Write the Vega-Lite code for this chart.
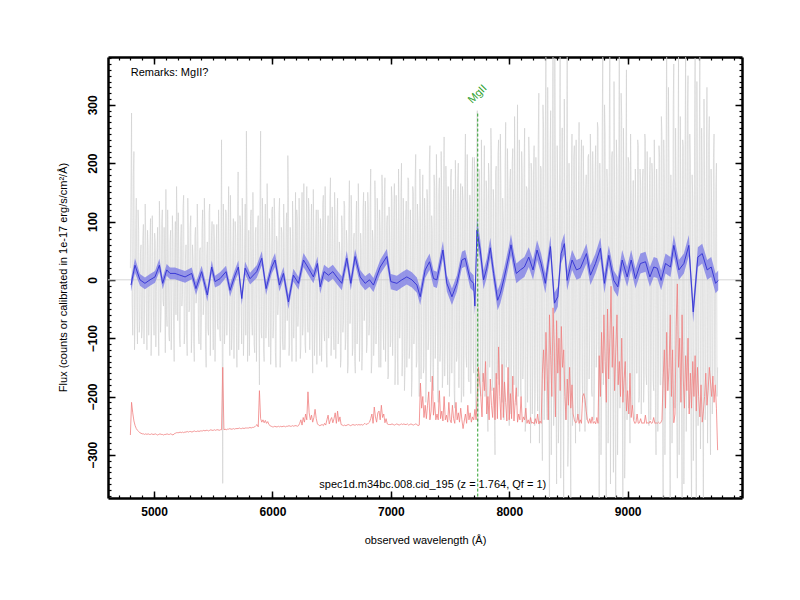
{
  "$schema": "https://vega.github.io/schema/vega-lite/v6.json",
  "width": 634,
  "height": 441,
  "autosize": {"type": "none"},
  "padding": {"left": 108, "top": 57, "right": 58, "bottom": 102},
  "background": "white",
  "config": {
    "font": "Liberation Sans",
    "view": {"stroke": null},
    "axis": {"grid": false, "zindex": 1, "tickColor": "black", "domainColor": "black", "labelColor": "black", "titleColor": "black"}
  },
  "datasets": {
    "spec": [
      {"w":4800,"f":20,"s":-266},{"w":4810,"f":286,"s":-210},{"w":4820,"f":-95,"s":-228},{"w":4830,"f":220,"s":-242},{"w":4840,"f":-60,"s":-250},{"w":4850,"f":140,"s":-255},{"w":4860,"f":-110,"s":-258},{"w":4870,"f":85,"s":-260},{"w":4880,"f":-70,"s":-262},{"w":4890,"f":60,"s":-263},
      {"w":4900,"f":-85,"s":-264},{"w":4910,"f":95,"s":-264},{"w":4920,"f":-40,"s":-265},{"w":4930,"f":70,"s":-264},{"w":4940,"f":-120,"s":-265},{"w":4950,"f":55,"s":-264},{"w":4960,"f":-30,"s":-265},{"w":4970,"f":105,"s":-265},{"w":4980,"f":-75,"s":-264},{"w":4990,"f":40,"s":-265},
      {"w":5000,"f":-95,"s":-265},{"w":5010,"f":65,"s":-264},{"w":5020,"f":-20,"s":-265},{"w":5030,"f":90,"s":-266},{"w":5040,"f":-130,"s":-265},{"w":5050,"f":75,"s":-264},{"w":5060,"f":-55,"s":-265},{"w":5070,"f":120,"s":-265},{"w":5080,"f":-45,"s":-266},{"w":5090,"f":30,"s":-265},
      {"w":5100,"f":155,"s":-265},{"w":5110,"f":-80,"s":-264},{"w":5120,"f":50,"s":-265},{"w":5130,"f":-105,"s":-265},{"w":5140,"f":85,"s":-264},{"w":5150,"f":-35,"s":-265},{"w":5160,"f":70,"s":-266},{"w":5170,"f":-140,"s":-264},{"w":5180,"f":100,"s":-263},{"w":5190,"f":160,"s":-262},
      {"w":5200,"f":-70,"s":-262},{"w":5210,"f":40,"s":-262},{"w":5220,"f":-115,"s":-261},{"w":5230,"f":95,"s":-262},{"w":5240,"f":-25,"s":-261},{"w":5250,"f":145,"s":-262},{"w":5260,"f":-90,"s":-261},{"w":5270,"f":60,"s":-261},{"w":5280,"f":-130,"s":-260},{"w":5290,"f":80,"s":-261},
      {"w":5300,"f":-50,"s":-260},{"w":5310,"f":110,"s":-260},{"w":5320,"f":-85,"s":-261},{"w":5330,"f":35,"s":-260},{"w":5340,"f":-140,"s":-259},{"w":5350,"f":90,"s":-260},{"w":5360,"f":-20,"s":-260},{"w":5370,"f":75,"s":-259},{"w":5380,"f":-110,"s":-260},{"w":5390,"f":55,"s":-259},
      {"w":5400,"f":-65,"s":-259},{"w":5410,"f":120,"s":-259},{"w":5420,"f":-40,"s":-258},{"w":5430,"f":85,"s":-259},{"w":5440,"f":-150,"s":-258},{"w":5450,"f":65,"s":-258},{"w":5460,"f":-95,"s":-259},{"w":5470,"f":130,"s":-258},{"w":5480,"f":-30,"s":-257},{"w":5490,"f":100,"s":-258},
      {"w":5500,"f":-120,"s":-258},{"w":5510,"f":70,"s":-257},{"w":5520,"f":-55,"s":-258},{"w":5530,"f":95,"s":-257},{"w":5540,"f":-85,"s":-257},{"w":5550,"f":45,"s":-258},{"w":5560,"f":-105,"s":-257},{"w":5570,"f":240,"s":-257},{"w":5580,"f":-349,"s":-150},{"w":5590,"f":80,"s":-257},
      {"w":5600,"f":-70,"s":-256},{"w":5610,"f":115,"s":-257},{"w":5620,"f":-45,"s":-256},{"w":5630,"f":160,"s":-256},{"w":5640,"f":-130,"s":-255},{"w":5650,"f":60,"s":-256},{"w":5660,"f":-90,"s":-256},{"w":5670,"f":105,"s":-255},{"w":5680,"f":-35,"s":-256},{"w":5690,"f":75,"s":-255},
      {"w":5700,"f":-150,"s":-255},{"w":5710,"f":185,"s":-255},{"w":5720,"f":-60,"s":-254},{"w":5730,"f":95,"s":-255},{"w":5740,"f":-110,"s":-255},{"w":5750,"f":50,"s":-254},{"w":5760,"f":-80,"s":-255},{"w":5770,"f":130,"s":-254},{"w":5780,"f":255,"s":-254},{"w":5790,"f":-140,"s":-254},
      {"w":5800,"f":85,"s":-254},{"w":5810,"f":-55,"s":-253},{"w":5820,"f":120,"s":-254},{"w":5830,"f":-95,"s":-253},{"w":5840,"f":40,"s":-253},{"w":5850,"f":-125,"s":-252},{"w":5860,"f":90,"s":-250},{"w":5870,"f":-30,"s":-248},{"w":5880,"f":110,"s":-252},{"w":5890,"f":-180,"s":-190},
      {"w":5900,"f":255,"s":-238},{"w":5910,"f":-100,"s":-244},{"w":5920,"f":75,"s":-240},{"w":5930,"f":-140,"s":-245},{"w":5940,"f":130,"s":-241},{"w":5950,"f":-60,"s":-246},{"w":5960,"f":95,"s":-243},{"w":5970,"f":-115,"s":-248},{"w":5980,"f":50,"s":-250},{"w":5990,"f":-85,"s":-251},
      {"w":6000,"f":125,"s":-252},{"w":6010,"f":-70,"s":-252},{"w":6020,"f":100,"s":-251},{"w":6030,"f":-150,"s":-252},{"w":6040,"f":65,"s":-252},{"w":6050,"f":-40,"s":-251},{"w":6060,"f":140,"s":-252},{"w":6070,"f":-95,"s":-251},{"w":6080,"f":80,"s":-252},{"w":6090,"f":-120,"s":-251},
      {"w":6100,"f":55,"s":-251},{"w":6110,"f":-75,"s":-252},{"w":6120,"f":115,"s":-251},{"w":6130,"f":213,"s":-251},{"w":6140,"f":-130,"s":-250},{"w":6150,"f":90,"s":-251},{"w":6160,"f":-60,"s":-251},{"w":6170,"f":135,"s":-250},{"w":6180,"f":-100,"s":-251},{"w":6190,"f":45,"s":-250},
      {"w":6200,"f":-140,"s":-250},{"w":6210,"f":105,"s":-251},{"w":6220,"f":-50,"s":-250},{"w":6230,"f":85,"s":-246},{"w":6240,"f":-115,"s":-240},{"w":6250,"f":150,"s":-249},{"w":6260,"f":-75,"s":-236},{"w":6270,"f":60,"s":-244},{"w":6280,"f":-125,"s":-230},{"w":6290,"f":160,"s":-240},
      {"w":6300,"f":-90,"s":-192},{"w":6310,"f":115,"s":-228},{"w":6320,"f":-45,"s":-240},{"w":6330,"f":130,"s":-232},{"w":6340,"f":-160,"s":-244},{"w":6350,"f":70,"s":-236},{"w":6360,"f":-85,"s":-222},{"w":6370,"f":120,"s":-238},{"w":6380,"f":-35,"s":-247},{"w":6390,"f":95,"s":-249},
      {"w":6400,"f":-130,"s":-250},{"w":6410,"f":80,"s":-249},{"w":6420,"f":-60,"s":-248},{"w":6430,"f":145,"s":-250},{"w":6440,"f":-105,"s":-246},{"w":6450,"f":55,"s":-249},{"w":6460,"f":-150,"s":-240},{"w":6470,"f":110,"s":-232},{"w":6480,"f":-40,"s":-247},{"w":6490,"f":175,"s":-240},
      {"w":6500,"f":-95,"s":-236},{"w":6510,"f":65,"s":-245},{"w":6520,"f":-120,"s":-238},{"w":6530,"f":100,"s":-228},{"w":6540,"f":-55,"s":-246},{"w":6550,"f":140,"s":-225},{"w":6560,"f":-85,"s":-243},{"w":6570,"f":45,"s":-235},{"w":6580,"f":-135,"s":-248},{"w":6590,"f":90,"s":-249},
      {"w":6600,"f":-70,"s":-250},{"w":6610,"f":125,"s":-249},{"w":6620,"f":-100,"s":-250},{"w":6630,"f":60,"s":-249},{"w":6640,"f":-145,"s":-248},{"w":6650,"f":170,"s":-249},{"w":6660,"f":-50,"s":-250},{"w":6670,"f":95,"s":-249},{"w":6680,"f":-115,"s":-248},{"w":6690,"f":80,"s":-249},
      {"w":6700,"f":-160,"s":-249},{"w":6710,"f":135,"s":-248},{"w":6720,"f":-65,"s":-249},{"w":6730,"f":100,"s":-248},{"w":6740,"f":-90,"s":-249},{"w":6750,"f":55,"s":-248},{"w":6760,"f":-125,"s":-249},{"w":6770,"f":150,"s":-248},{"w":6780,"f":-45,"s":-246},{"w":6790,"f":85,"s":-248},
      {"w":6800,"f":-110,"s":-247},{"w":6810,"f":120,"s":-246},{"w":6820,"f":-75,"s":-244},{"w":6830,"f":190,"s":-238},{"w":6840,"f":-140,"s":-230},{"w":6850,"f":65,"s":-246},{"w":6860,"f":-95,"s":-218},{"w":6870,"f":130,"s":-235},{"w":6880,"f":-55,"s":-244},{"w":6890,"f":105,"s":-228},
      {"w":6900,"f":-150,"s":-225},{"w":6910,"f":85,"s":-240},{"w":6920,"f":-60,"s":-215},{"w":6930,"f":145,"s":-236},{"w":6940,"f":-120,"s":-230},{"w":6950,"f":175,"s":-245},{"w":6960,"f":-80,"s":-238},{"w":6970,"f":110,"s":-247},{"w":6980,"f":-165,"s":-248},{"w":6990,"f":70,"s":-248},
      {"w":7000,"f":-105,"s":-248},{"w":7010,"f":140,"s":-247},{"w":7020,"f":-70,"s":-248},{"w":7030,"f":165,"s":-249},{"w":7040,"f":-135,"s":-248},{"w":7050,"f":90,"s":-247},{"w":7060,"f":-180,"s":-248},{"w":7070,"f":120,"s":-249},{"w":7080,"f":-60,"s":-248},{"w":7090,"f":200,"s":-247},
      {"w":7100,"f":-125,"s":-248},{"w":7110,"f":75,"s":-247},{"w":7120,"f":-155,"s":-248},{"w":7130,"f":135,"s":-248},{"w":7140,"f":-90,"s":-247},{"w":7150,"f":170,"s":-249},{"w":7160,"f":-115,"s":-248},{"w":7170,"f":60,"s":-247},{"w":7180,"f":-170,"s":-248},{"w":7190,"f":150,"s":-249},
      {"w":7200,"f":-85,"s":-248},{"w":7210,"f":215,"s":-247},{"w":7220,"f":-140,"s":-248},{"w":7230,"f":100,"s":-250},{"w":7240,"f":-200,"s":-249},{"w":7250,"f":125,"s":-177},{"w":7260,"f":-75,"s":-220},{"w":7270,"f":180,"s":-200},{"w":7280,"f":-150,"s":-236},{"w":7290,"f":95,"s":-215},
      {"w":7300,"f":-175,"s":-238},{"w":7310,"f":140,"s":-215},{"w":7320,"f":-100,"s":-192},{"w":7330,"f":230,"s":-240},{"w":7340,"f":-130,"s":-225},{"w":7350,"f":85,"s":-165},{"w":7360,"f":-190,"s":-232},{"w":7370,"f":160,"s":-210},{"w":7380,"f":-65,"s":-240},{"w":7390,"f":120,"s":-230},
      {"w":7400,"f":-210,"s":-240},{"w":7410,"f":175,"s":-190},{"w":7420,"f":-110,"s":-238},{"w":7430,"f":140,"s":-225},{"w":7440,"f":-160,"s":-242},{"w":7450,"f":245,"s":-200},{"w":7460,"f":-95,"s":-240},{"w":7470,"f":130,"s":-232},{"w":7480,"f":-180,"s":-244},{"w":7490,"f":110,"s":-210},
      {"w":7500,"f":-140,"s":-240},{"w":7510,"f":190,"s":-245},{"w":7520,"f":-85,"s":-215},{"w":7530,"f":155,"s":-238},{"w":7540,"f":-220,"s":-246},{"w":7550,"f":120,"s":-210},{"w":7560,"f":-130,"s":-240},{"w":7570,"f":200,"s":-228},{"w":7580,"f":-70,"s":-244},{"w":7590,"f":165,"s":-220},
      {"w":7600,"f":-190,"s":-240},{"w":7610,"f":135,"s":-255},{"w":7620,"f":-100,"s":-242},{"w":7630,"f":250,"s":-230},{"w":7640,"f":-150,"s":-246},{"w":7650,"f":105,"s":-215},{"w":7660,"f":-175,"s":-240},{"w":7670,"f":145,"s":-228},{"w":7680,"f":-120,"s":-244},{"w":7690,"f":210,"s":-235},
      {"w":7700,"f":-160,"s":-240},{"w":7710,"f":185,"s":-222},{"w":7720,"f":-230,"s":-240},{"w":7730,"f":290,"s":-200},{"w":7740,"f":-140,"s":-150},{"w":7750,"f":160,"s":-175},{"w":7760,"f":-200,"s":-200},{"w":7770,"f":120,"s":-235},{"w":7780,"f":-110,"s":-160},{"w":7790,"f":230,"s":-190},
      {"w":7800,"f":-185,"s":-140},{"w":7810,"f":150,"s":-230},{"w":7820,"f":-260,"s":-200},{"w":7830,"f":175,"s":-240},{"w":7840,"f":-90,"s":-170},{"w":7850,"f":215,"s":-215},{"w":7860,"f":-170,"s":-236},{"w":7870,"f":130,"s":-185},{"w":7880,"f":-300,"s":-240},{"w":7890,"f":195,"s":-160},
      {"w":7900,"f":-145,"s":-238},{"w":7910,"f":240,"s":-115},{"w":7920,"f":-120,"s":-200},{"w":7930,"f":165,"s":-240},{"w":7940,"f":-210,"s":-145},{"w":7950,"f":100,"s":-236},{"w":7960,"f":-175,"s":-175},{"w":7970,"f":270,"s":-210},{"w":7980,"f":-135,"s":-242},{"w":7990,"f":150,"s":-150},
      {"w":8000,"f":-250,"s":-240},{"w":8010,"f":190,"s":-195},{"w":8020,"f":-95,"s":-238},{"w":8030,"f":225,"s":-165},{"w":8040,"f":-180,"s":-242},{"w":8050,"f":140,"s":-210},{"w":8060,"f":-215,"s":-185},{"w":8070,"f":300,"s":-244},{"w":8080,"f":-160,"s":-230},{"w":8090,"f":115,"s":-240},
      {"w":8100,"f":-200,"s":-200},{"w":8110,"f":175,"s":-244},{"w":8120,"f":-130,"s":-235},{"w":8130,"f":260,"s":-240},{"w":8140,"f":-240,"s":-220},{"w":8150,"f":155,"s":-246},{"w":8160,"f":-110,"s":-240},{"w":8170,"f":205,"s":-247},{"w":8180,"f":-280,"s":-236},{"w":8190,"f":185,"s":-246},
      {"w":8200,"f":-150,"s":-244},{"w":8210,"f":230,"s":-247},{"w":8220,"f":-195,"s":-238},{"w":8230,"f":140,"s":-246},{"w":8240,"f":-225,"s":-230},{"w":8250,"f":320,"s":-247},{"w":8260,"f":-170,"s":-242},{"w":8270,"f":190,"s":-246},{"w":8280,"f":-310,"s":-160},{"w":8290,"f":260,"s":-120},
      {"w":8300,"f":-160,"s":-190},{"w":8310,"f":410,"s":-90},{"w":8320,"f":-240,"s":-150},{"w":8330,"f":130,"s":-240},{"w":8340,"f":-420,"s":-60},{"w":8350,"f":290,"s":-130},{"w":8360,"f":-110,"s":-200},{"w":8370,"f":450,"s":-48},{"w":8380,"f":-200,"s":-110},{"w":8390,"f":180,"s":-235},
      {"w":8400,"f":-350,"s":-70},{"w":8410,"f":150,"s":-160},{"w":8420,"f":-230,"s":-100},{"w":8430,"f":420,"s":-190},{"w":8440,"f":-120,"s":-80},{"w":8450,"f":260,"s":-150},{"w":8460,"f":-400,"s":-120},{"w":8470,"f":140,"s":-200},{"w":8480,"f":-190,"s":-240},{"w":8490,"f":440,"s":-170},
      {"w":8500,"f":-270,"s":-215},{"w":8510,"f":110,"s":-150},{"w":8520,"f":-390,"s":-220},{"w":8530,"f":250,"s":-180},{"w":8540,"f":-140,"s":-230},{"w":8550,"f":230,"s":-240},{"w":8560,"f":-280,"s":-245},{"w":8570,"f":90,"s":-244},{"w":8580,"f":-240,"s":-230},{"w":8590,"f":270,"s":-246},
      {"w":8600,"f":-120,"s":-240},{"w":8610,"f":240,"s":-246},{"w":8620,"f":-210,"s":-200},{"w":8630,"f":160,"s":-195},{"w":8640,"f":-260,"s":-205},{"w":8650,"f":180,"s":-225},{"w":8660,"f":-150,"s":-240},{"w":8670,"f":215,"s":-246},{"w":8680,"f":-90,"s":-238},{"w":8690,"f":190,"s":-246},
      {"w":8700,"f":-200,"s":-235},{"w":8710,"f":150,"s":-246},{"w":8720,"f":-170,"s":-243},{"w":8730,"f":230,"s":-247},{"w":8740,"f":-110,"s":-236},{"w":8750,"f":260,"s":-246},{"w":8760,"f":-380,"s":-130},{"w":8770,"f":120,"s":-200},{"w":8780,"f":-200,"s":-90},{"w":8790,"f":390,"s":-160},
      {"w":8800,"f":-140,"s":-60},{"w":8810,"f":250,"s":-140},{"w":8820,"f":-440,"s":-210},{"w":8830,"f":160,"s":-50},{"w":8840,"f":-190,"s":-170},{"w":8850,"f":460,"s":-100},{"w":8860,"f":-120,"s":-11},{"w":8870,"f":220,"s":-150},{"w":8880,"f":-330,"s":-80},{"w":8890,"f":150,"s":-190},
      {"w":8900,"f":-410,"s":-120},{"w":8910,"f":190,"s":-60},{"w":8920,"f":-160,"s":-180},{"w":8930,"f":450,"s":-140},{"w":8940,"f":-100,"s":-200},{"w":8950,"f":280,"s":-100},{"w":8960,"f":-420,"s":-210},{"w":8970,"f":130,"s":-170},{"w":8980,"f":-260,"s":-140},{"w":8990,"f":360,"s":-225},
      {"w":9000,"f":-150,"s":-190},{"w":9010,"f":200,"s":-230},{"w":9020,"f":-280,"s":-160},{"w":9030,"f":150,"s":-236},{"w":9040,"f":-220,"s":-215},{"w":9050,"f":170,"s":-240},{"w":9060,"f":-240,"s":-246},{"w":9070,"f":110,"s":-245},{"w":9080,"f":-160,"s":-230},{"w":9090,"f":230,"s":-246},
      {"w":9100,"f":-200,"s":-245},{"w":9110,"f":160,"s":-238},{"w":9120,"f":-130,"s":-246},{"w":9130,"f":190,"s":-245},{"w":9140,"f":-170,"s":-246},{"w":9150,"f":240,"s":-232},{"w":9160,"f":-180,"s":-246},{"w":9170,"f":120,"s":-245},{"w":9180,"f":-250,"s":-246},{"w":9190,"f":210,"s":-242},
      {"w":9200,"f":-130,"s":-246},{"w":9210,"f":180,"s":-245},{"w":9220,"f":-190,"s":-236},{"w":9230,"f":150,"s":-246},{"w":9240,"f":-300,"s":-245},{"w":9250,"f":120,"s":-246},{"w":9260,"f":-160,"s":-244},{"w":9270,"f":210,"s":-246},{"w":9280,"f":-180,"s":-245},{"w":9290,"f":250,"s":-240},
      {"w":9300,"f":-400,"s":-170},{"w":9310,"f":180,"s":-120},{"w":9320,"f":-120,"s":-220},{"w":9330,"f":440,"s":-90},{"w":9340,"f":-160,"s":-190},{"w":9350,"f":200,"s":-150},{"w":9360,"f":-450,"s":-60},{"w":9370,"f":110,"s":-200},{"w":9380,"f":-190,"s":-120},{"w":9390,"f":370,"s":-245},
      {"w":9400,"f":-220,"s":-230},{"w":9410,"f":160,"s":-80},{"w":9420,"f":-340,"s":-7},{"w":9430,"f":390,"s":-150},{"w":9440,"f":-170,"s":-100},{"w":9450,"f":120,"s":-210},{"w":9460,"f":-380,"s":-60},{"w":9470,"f":230,"s":-170},{"w":9480,"f":-110,"s":-220},{"w":9490,"f":400,"s":-130},
      {"w":9500,"f":-160,"s":-190},{"w":9510,"f":350,"s":-100},{"w":9520,"f":-130,"s":-230},{"w":9530,"f":200,"s":-160},{"w":9540,"f":-390,"s":-220},{"w":9550,"f":140,"s":-140},{"w":9560,"f":-180,"s":-200},{"w":9570,"f":380,"s":-130},{"w":9580,"f":-410,"s":-225},{"w":9590,"f":160,"s":-150},
      {"w":9600,"f":-130,"s":-200},{"w":9610,"f":400,"s":-235},{"w":9620,"f":-170,"s":-180},{"w":9630,"f":190,"s":-244},{"w":9640,"f":-440,"s":-225},{"w":9650,"f":160,"s":-200},{"w":9660,"f":-200,"s":-160},{"w":9670,"f":330,"s":-215},{"w":9680,"f":-150,"s":-190},{"w":9690,"f":280,"s":-150},
      {"w":9700,"f":-300,"s":-175},{"w":9710,"f":120,"s":-200},{"w":9720,"f":-160,"s":-165},{"w":9730,"f":250,"s":-210},{"w":9740,"f":-180,"s":-180},{"w":9750,"f":200,"s":-220},{"w":9760,"f":-150,"s":-292},
      {"w":4805,"f":150},{"w":4815,"f":-40},{"w":4825,"f":180},{"w":4835,"f":-120},{"w":4845,"f":95},{"w":4855,"f":-65},{"w":4865,"f":120},{"w":4875,"f":-90},{"w":4885,"f":45},{"w":4895,"f":-100},
      {"w":4905,"f":70},{"w":4915,"f":-110},{"w":4925,"f":130},{"w":4935,"f":-55},{"w":4945,"f":85},{"w":4955,"f":-95},{"w":4965,"f":60},{"w":4975,"f":-130},{"w":4985,"f":110},{"w":4995,"f":-50},
      {"w":5005,"f":80},{"w":5015,"f":-115},{"w":5025,"f":45},{"w":5035,"f":-70},{"w":5045,"f":135},{"w":5055,"f":-90},{"w":5065,"f":100},{"w":5075,"f":-35},{"w":5085,"f":90},{"w":5095,"f":-125},
      {"w":5105,"f":-60},{"w":5115,"f":120},{"w":5125,"f":-95},{"w":5135,"f":65},{"w":5145,"f":-120},{"w":5155,"f":110},{"w":5165,"f":-85},{"w":5175,"f":55},{"w":5185,"f":-60},{"w":5195,"f":95},
      {"w":5205,"f":115},{"w":5215,"f":-100},{"w":5225,"f":70},{"w":5235,"f":-45},{"w":5245,"f":125},{"w":5255,"f":-110},{"w":5265,"f":35},{"w":5275,"f":-95},{"w":5285,"f":140},{"w":5295,"f":-55},
      {"w":5305,"f":90},{"w":5315,"f":-125},{"w":5325,"f":60},{"w":5335,"f":-105},{"w":5345,"f":75},{"w":5355,"f":-40},{"w":5365,"f":130},{"w":5375,"f":-90},{"w":5385,"f":50},{"w":5395,"f":-120},
      {"w":5405,"f":85},{"w":5415,"f":-60},{"w":5425,"f":140},{"w":5435,"f":-110},{"w":5445,"f":40},{"w":5455,"f":-85},{"w":5465,"f":115},{"w":5475,"f":-130},{"w":5485,"f":70},{"w":5495,"f":-50},
      {"w":5505,"f":95},{"w":5515,"f":-140},{"w":5525,"f":60},{"w":5535,"f":-75},{"w":5545,"f":120},{"w":5555,"f":-95},{"w":5565,"f":55},{"w":5575,"f":-60},{"w":5585,"f":130},{"w":5595,"f":-110},
      {"w":5605,"f":120},{"w":5615,"f":-95},{"w":5625,"f":80},{"w":5635,"f":-60},{"w":5645,"f":145},{"w":5655,"f":-120},{"w":5665,"f":50},{"w":5675,"f":-135},{"w":5685,"f":100},{"w":5695,"f":-80},
      {"w":5705,"f":75},{"w":5715,"f":-120},{"w":5725,"f":110},{"w":5735,"f":-45},{"w":5745,"f":140},{"w":5755,"f":-130},{"w":5765,"f":60},{"w":5775,"f":-95},{"w":5785,"f":115},{"w":5795,"f":-65},
      {"w":5805,"f":-130},{"w":5815,"f":105},{"w":5825,"f":-70},{"w":5835,"f":150},{"w":5845,"f":-110},{"w":5855,"f":80},{"w":5865,"f":-140},{"w":5875,"f":95},{"w":5885,"f":-65},{"w":5895,"f":130},
      {"w":5905,"f":-90},{"w":5915,"f":140},{"w":5925,"f":-120},{"w":5935,"f":60},{"w":5945,"f":-100},{"w":5955,"f":165},{"w":5965,"f":-80},{"w":5975,"f":105},{"w":5985,"f":-145},{"w":5995,"f":120},
      {"w":6005,"f":-100},{"w":6015,"f":140},{"w":6025,"f":-125},{"w":6035,"f":75},{"w":6045,"f":-60},{"w":6055,"f":115},{"w":6065,"f":-150},{"w":6075,"f":90},{"w":6085,"f":-105},{"w":6095,"f":130},
      {"w":6105,"f":-120},{"w":6115,"f":95},{"w":6125,"f":-70},{"w":6135,"f":145},{"w":6145,"f":-110},{"w":6155,"f":60},{"w":6165,"f":-140},{"w":6175,"f":85},{"w":6185,"f":-45},{"w":6195,"f":150},
      {"w":6205,"f":120},{"w":6215,"f":-80},{"w":6225,"f":140},{"w":6235,"f":-135},{"w":6245,"f":70},{"w":6255,"f":-95},{"w":6265,"f":165},{"w":6275,"f":-110},{"w":6285,"f":90},{"w":6295,"f":-60},
      {"w":6305,"f":140},{"w":6315,"f":-120},{"w":6325,"f":80},{"w":6335,"f":-100},{"w":6345,"f":155},{"w":6355,"f":-130},{"w":6365,"f":60},{"w":6375,"f":-145},{"w":6385,"f":120},{"w":6395,"f":-75},
      {"w":6405,"f":105},{"w":6415,"f":-140},{"w":6425,"f":130},{"w":6435,"f":-85},{"w":6445,"f":160},{"w":6455,"f":-120},{"w":6465,"f":75},{"w":6475,"f":-100},{"w":6485,"f":140},{"w":6495,"f":-130},
      {"w":6505,"f":125},{"w":6515,"f":-80},{"w":6525,"f":150},{"w":6535,"f":-135},{"w":6545,"f":95},{"w":6555,"f":-110},{"w":6565,"f":65},{"w":6575,"f":-150},{"w":6585,"f":110},{"w":6595,"f":-90},
      {"w":6605,"f":135},{"w":6615,"f":-120},{"w":6625,"f":85},{"w":6635,"f":-160},{"w":6645,"f":110},{"w":6655,"f":-75},{"w":6665,"f":145},{"w":6675,"f":-130},{"w":6685,"f":70},{"w":6695,"f":-140},
      {"w":6705,"f":95},{"w":6715,"f":-110},{"w":6725,"f":165},{"w":6735,"f":-140},{"w":6745,"f":80},{"w":6755,"f":-155},{"w":6765,"f":120},{"w":6775,"f":-70},{"w":6785,"f":135},{"w":6795,"f":-125},
      {"w":6805,"f":150},{"w":6815,"f":-95},{"w":6825,"f":130},{"w":6835,"f":-160},{"w":6845,"f":85},{"w":6855,"f":-130},{"w":6865,"f":170},{"w":6875,"f":-110},{"w":6885,"f":140},{"w":6895,"f":-85},
      {"w":6905,"f":120},{"w":6915,"f":-150},{"w":6925,"f":180},{"w":6935,"f":-90},{"w":6945,"f":135},{"w":6955,"f":-140},{"w":6965,"f":95},{"w":6975,"f":-170},{"w":6985,"f":125},{"w":6995,"f":-115},
      {"w":7005,"f":160},{"w":7015,"f":-130},{"w":7025,"f":110},{"w":7035,"f":-180},{"w":7045,"f":145},{"w":7055,"f":-120},{"w":7065,"f":190},{"w":7075,"f":-100},{"w":7085,"f":150},{"w":7095,"f":-165},
      {"w":7105,"f":140},{"w":7115,"f":-190},{"w":7125,"f":100},{"w":7135,"f":-150},{"w":7145,"f":175},{"w":7155,"f":-135},{"w":7165,"f":120},{"w":7175,"f":-200},{"w":7185,"f":160},{"w":7195,"f":-110},
      {"w":7205,"f":170},{"w":7215,"f":-150},{"w":7225,"f":130},{"w":7235,"f":-120},{"w":7245,"f":190},{"w":7255,"f":-170},{"w":7265,"f":105},{"w":7275,"f":-160},{"w":7285,"f":140},{"w":7295,"f":-210},
      {"w":7305,"f":155},{"w":7315,"f":-120},{"w":7325,"f":200},{"w":7335,"f":-175},{"w":7345,"f":110},{"w":7355,"f":-150},{"w":7365,"f":180},{"w":7375,"f":-135},{"w":7385,"f":215},{"w":7395,"f":-190},
      {"w":7405,"f":150},{"w":7415,"f":-140},{"w":7425,"f":220},{"w":7435,"f":-185},{"w":7445,"f":120},{"w":7455,"f":-165},{"w":7465,"f":195},{"w":7475,"f":-120},{"w":7485,"f":160},{"w":7495,"f":-200},
      {"w":7505,"f":175},{"w":7515,"f":-160},{"w":7525,"f":125},{"w":7535,"f":-190},{"w":7545,"f":205},{"w":7555,"f":-140},{"w":7565,"f":170},{"w":7575,"f":-185},{"w":7585,"f":130},{"w":7595,"f":-210},
      {"w":7605,"f":160},{"w":7615,"f":-200},{"w":7625,"f":180},{"w":7635,"f":-130},{"w":7645,"f":215},{"w":7655,"f":-170},{"w":7665,"f":145},{"w":7675,"f":-195},{"w":7685,"f":170},{"w":7695,"f":-140},
      {"w":7705,"f":210},{"w":7715,"f":-180},{"w":7725,"f":150},{"w":7735,"f":-250},{"w":7745,"f":190},{"w":7755,"f":-160},{"w":7765,"f":240},{"w":7775,"f":-175},{"w":7785,"f":140},{"w":7795,"f":-200},
      {"w":7805,"f":170},{"w":7815,"f":-220},{"w":7825,"f":200},{"w":7835,"f":-150},{"w":7845,"f":260},{"w":7855,"f":-190},{"w":7865,"f":155},{"w":7875,"f":-230},{"w":7885,"f":185},{"w":7895,"f":-170},
      {"w":7905,"f":215},{"w":7915,"f":-180},{"w":7925,"f":250},{"w":7935,"f":-160},{"w":7945,"f":140},{"w":7955,"f":-240},{"w":7965,"f":195},{"w":7975,"f":-150},{"w":7985,"f":225},{"w":7995,"f":-190},
      {"w":8005,"f":165},{"w":8015,"f":-230},{"w":8025,"f":200},{"w":8035,"f":-145},{"w":8045,"f":280},{"w":8055,"f":-175},{"w":8065,"f":150},{"w":8075,"f":-200},{"w":8085,"f":240},{"w":8095,"f":-185},
      {"w":8105,"f":220},{"w":8115,"f":-170},{"w":8125,"f":190},{"w":8135,"f":-260},{"w":8145,"f":160},{"w":8155,"f":-210},{"w":8165,"f":245},{"w":8175,"f":-140},{"w":8185,"f":200},{"w":8195,"f":-230},
      {"w":8205,"f":180},{"w":8215,"f":-250},{"w":8225,"f":210},{"w":8235,"f":-160},{"w":8245,"f":240},{"w":8255,"f":-280},{"w":8265,"f":195},{"w":8275,"f":-220},{"w":8285,"f":300},{"w":8295,"f":-240},
      {"w":8305,"f":250},{"w":8315,"f":-200},{"w":8325,"f":330},{"w":8335,"f":-180},{"w":8345,"f":220},{"w":8355,"f":-300},{"w":8365,"f":170},{"w":8375,"f":-250},{"w":8385,"f":380},{"w":8395,"f":-190},
      {"w":8405,"f":230},{"w":8415,"f":-280},{"w":8425,"f":170},{"w":8435,"f":-340},{"w":8445,"f":260},{"w":8455,"f":-200},{"w":8465,"f":310},{"w":8475,"f":-240},{"w":8485,"f":180},{"w":8495,"f":-320},
      {"w":8505,"f":200},{"w":8515,"f":-230},{"w":8525,"f":160},{"w":8535,"f":-250},{"w":8545,"f":210},{"w":8555,"f":-180},{"w":8565,"f":240},{"w":8575,"f":-200},{"w":8585,"f":170},{"w":8595,"f":-260},
      {"w":8605,"f":180},{"w":8615,"f":-160},{"w":8625,"f":230},{"w":8635,"f":-200},{"w":8645,"f":150},{"w":8655,"f":-240},{"w":8665,"f":210},{"w":8675,"f":-170},{"w":8685,"f":250},{"w":8695,"f":-190},
      {"w":8705,"f":220},{"w":8715,"f":-240},{"w":8725,"f":180},{"w":8735,"f":-150},{"w":8745,"f":270},{"w":8755,"f":-210},{"w":8765,"f":200},{"w":8775,"f":-300},{"w":8785,"f":250},{"w":8795,"f":-180},
      {"w":8805,"f":300},{"w":8815,"f":-220},{"w":8825,"f":190},{"w":8835,"f":-280},{"w":8845,"f":240},{"w":8855,"f":-350},{"w":8865,"f":210},{"w":8875,"f":-190},{"w":8885,"f":340},{"w":8895,"f":-260},
      {"w":8905,"f":240},{"w":8915,"f":-300},{"w":8925,"f":180},{"w":8935,"f":-220},{"w":8945,"f":320},{"w":8955,"f":-190},{"w":8965,"f":260},{"w":8975,"f":-340},{"w":8985,"f":200},{"w":8995,"f":-240},
      {"w":9005,"f":210},{"w":9015,"f":-180},{"w":9025,"f":250},{"w":9035,"f":-200},{"w":9045,"f":170},{"w":9055,"f":-230},{"w":9065,"f":190},{"w":9075,"f":-160},{"w":9085,"f":240},{"w":9095,"f":-210},
      {"w":9105,"f":190},{"w":9115,"f":-230},{"w":9125,"f":170},{"w":9135,"f":-210},{"w":9145,"f":250},{"w":9155,"f":-160},{"w":9165,"f":220},{"w":9175,"f":-190},{"w":9185,"f":180},{"w":9195,"f":-240},
      {"w":9205,"f":200},{"w":9215,"f":-170},{"w":9225,"f":240},{"w":9235,"f":-220},{"w":9245,"f":190},{"w":9255,"f":-260},{"w":9265,"f":230},{"w":9275,"f":-180},{"w":9285,"f":280},{"w":9295,"f":-210},
      {"w":9305,"f":240},{"w":9315,"f":-300},{"w":9325,"f":200},{"w":9335,"f":-190},{"w":9345,"f":330},{"w":9355,"f":-250},{"w":9365,"f":180},{"w":9375,"f":-280},{"w":9385,"f":300},{"w":9395,"f":-210},
      {"w":9405,"f":260},{"w":9415,"f":-230},{"w":9425,"f":190},{"w":9435,"f":-300},{"w":9445,"f":280},{"w":9455,"f":-200},{"w":9465,"f":240},{"w":9475,"f":-350},{"w":9485,"f":210},{"w":9495,"f":-260},
      {"w":9505,"f":290},{"w":9515,"f":-220},{"w":9525,"f":250},{"w":9535,"f":-270},{"w":9545,"f":180},{"w":9555,"f":-310},{"w":9565,"f":230},{"w":9575,"f":-200},{"w":9585,"f":340},{"w":9595,"f":-250},
      {"w":9605,"f":220},{"w":9615,"f":-290},{"w":9625,"f":260},{"w":9635,"f":-200},{"w":9645,"f":310},{"w":9655,"f":-240},{"w":9665,"f":190},{"w":9675,"f":-280},{"w":9685,"f":240},{"w":9695,"f":-210},
      {"w":9705,"f":190},{"w":9715,"f":-230},{"w":9725,"f":210},{"w":9735,"f":-170},{"w":9745,"f":160},{"w":9755,"f":-200}
    ],
    "smooth": [
      {"w":4805,"b":-9,"lo":-20,"hi":2},{"w":4839,"b":25,"lo":12,"hi":37},{"w":4881,"b":0,"lo":-10,"hi":10},{"w":4923,"b":-6,"lo":-16,"hi":4},{"w":4966,"b":0,"lo":-10,"hi":10},
      {"w":5008,"b":5,"lo":-5,"hi":15},{"w":5045,"b":25,"lo":14,"hi":36},{"w":5073,"b":-6,"lo":-16,"hi":4},{"w":5107,"b":17,"lo":7,"hi":27},{"w":5135,"b":11,"lo":1,"hi":21},
      {"w":5177,"b":11,"lo":1,"hi":21},{"w":5219,"b":8,"lo":-2,"hi":18},{"w":5262,"b":5,"lo":-5,"hi":15},{"w":5318,"b":11,"lo":1,"hi":21},{"w":5354,"b":-15,"lo":-26,"hi":-4},
      {"w":5402,"b":14,"lo":4,"hi":24},{"w":5450,"b":-26,"lo":-37,"hi":-15},{"w":5487,"b":22,"lo":11,"hi":33},{"w":5515,"b":-3,"lo":-13,"hi":7},{"w":5557,"b":2,"lo":-9,"hi":13},
      {"w":5608,"b":14,"lo":4,"hi":24},{"w":5642,"b":-18,"lo":-29,"hi":-7},{"w":5684,"b":8,"lo":-2,"hi":18},{"w":5712,"b":22,"lo":11,"hi":33},{"w":5741,"b":-32,"lo":-43,"hi":-21},
      {"w":5769,"b":20,"lo":9,"hi":31},{"w":5811,"b":2,"lo":-8,"hi":12},{"w":5867,"b":14,"lo":3,"hi":25},{"w":5910,"b":37,"lo":25,"hi":49},{"w":5946,"b":-15,"lo":-26,"hi":-4},
      {"w":5994,"b":22,"lo":11,"hi":33},{"w":6022,"b":34,"lo":22,"hi":46},{"w":6059,"b":-9,"lo":-20,"hi":2},{"w":6093,"b":11,"lo":0,"hi":22},{"w":6135,"b":-38,"lo":-50,"hi":-26},
      {"w":6177,"b":8,"lo":-3,"hi":19},{"w":6220,"b":-6,"lo":-17,"hi":5},{"w":6262,"b":34,"lo":22,"hi":46},{"w":6304,"b":20,"lo":8,"hi":32},{"w":6346,"b":5,"lo":-6,"hi":16},
      {"w":6380,"b":28,"lo":16,"hi":40},{"w":6403,"b":-12,"lo":-24,"hi":0},{"w":6436,"b":14,"lo":2,"hi":26},{"w":6473,"b":8,"lo":-4,"hi":20},{"w":6510,"b":14,"lo":2,"hi":26},
      {"w":6543,"b":5,"lo":-7,"hi":17},{"w":6586,"b":-6,"lo":-18,"hi":6},{"w":6628,"b":37,"lo":24,"hi":50},{"w":6662,"b":-6,"lo":-18,"hi":6},{"w":6698,"b":40,"lo":27,"hi":53},
      {"w":6741,"b":5,"lo":-7,"hi":17},{"w":6783,"b":-6,"lo":-18,"hi":6},{"w":6820,"b":0,"lo":-12,"hi":12},{"w":6853,"b":-9,"lo":-21,"hi":3},{"w":6910,"b":22,"lo":10,"hi":34},
      {"w":6966,"b":40,"lo":27,"hi":53},{"w":7000,"b":-3,"lo":-16,"hi":10},{"w":7051,"b":-6,"lo":-19,"hi":7},{"w":7093,"b":0,"lo":-13,"hi":13},{"w":7135,"b":5,"lo":-8,"hi":18},
      {"w":7178,"b":0,"lo":-13,"hi":13},{"w":7220,"b":-9,"lo":-22,"hi":4},{"w":7248,"b":-29,"lo":-43,"hi":-15},{"w":7290,"b":17,"lo":3,"hi":31},{"w":7327,"b":31,"lo":17,"hi":45},
      {"w":7361,"b":2,"lo":-12,"hi":16},{"w":7389,"b":0,"lo":-14,"hi":14},{"w":7440,"b":51,"lo":36,"hi":66},{"w":7473,"b":-6,"lo":-20,"hi":8},{"w":7516,"b":-29,"lo":-43,"hi":-15},
      {"w":7558,"b":-6,"lo":-20,"hi":8},{"w":7600,"b":34,"lo":20,"hi":48},{"w":7628,"b":37,"lo":23,"hi":51},{"w":7671,"b":0,"lo":-14,"hi":14},{"w":7699,"b":-6,"lo":-20,"hi":8},
      {"w":7710,"b":-45,"lo":-60,"hi":-30},{"w":7727,"b":85,"lo":65,"hi":105},{"w":7755,"b":51,"lo":33,"hi":69},{"w":7783,"b":0,"lo":-16,"hi":16},{"w":7810,"b":20,"lo":4,"hi":36},
      {"w":7840,"b":55,"lo":38,"hi":72},{"w":7868,"b":11,"lo":-5,"hi":27},{"w":7902,"b":-35,"lo":-52,"hi":-18},{"w":7925,"b":-23,"lo":-40,"hi":-6},{"w":7959,"b":5,"lo":-12,"hi":22},
      {"w":7995,"b":39,"lo":22,"hi":56},{"w":8015,"b":60,"lo":42,"hi":78},{"w":8040,"b":30,"lo":13,"hi":47},{"w":8060,"b":11,"lo":-6,"hi":28},{"w":8094,"b":17,"lo":0,"hi":34},
      {"w":8128,"b":22,"lo":5,"hi":39},{"w":8165,"b":39,"lo":22,"hi":56},{"w":8201,"b":17,"lo":0,"hi":34},{"w":8235,"b":51,"lo":34,"hi":68},{"w":8269,"b":28,"lo":11,"hi":45},
      {"w":8305,"b":-6,"lo":-23,"hi":11},{"w":8348,"b":57,"lo":39,"hi":75},{"w":8382,"b":-40,"lo":-58,"hi":-22},{"w":8410,"b":-29,"lo":-46,"hi":-12},{"w":8438,"b":45,"lo":28,"hi":62},
      {"w":8466,"b":62,"lo":44,"hi":80},{"w":8489,"b":-1,"lo":-18,"hi":16},{"w":8531,"b":34,"lo":17,"hi":51},{"w":8568,"b":17,"lo":0,"hi":34},{"w":8601,"b":20,"lo":3,"hi":37},
      {"w":8652,"b":45,"lo":28,"hi":62},{"w":8686,"b":8,"lo":-9,"hi":25},{"w":8728,"b":28,"lo":11,"hi":45},{"w":8770,"b":54,"lo":36,"hi":72},{"w":8804,"b":-6,"lo":-23,"hi":11},
      {"w":8841,"b":42,"lo":25,"hi":59},{"w":8883,"b":-1,"lo":-18,"hi":16},{"w":8917,"b":-12,"lo":-29,"hi":5},{"w":8954,"b":34,"lo":17,"hi":51},{"w":8996,"b":5,"lo":-12,"hi":22},
      {"w":9030,"b":34,"lo":17,"hi":51},{"w":9066,"b":2,"lo":-15,"hi":19},{"w":9108,"b":28,"lo":11,"hi":45},{"w":9151,"b":31,"lo":14,"hi":48},{"w":9188,"b":5,"lo":-12,"hi":22},
      {"w":9221,"b":22,"lo":5,"hi":39},{"w":9250,"b":20,"lo":3,"hi":37},{"w":9283,"b":-1,"lo":-18,"hi":16},{"w":9320,"b":28,"lo":11,"hi":45},{"w":9362,"b":22,"lo":5,"hi":39},
      {"w":9390,"b":59,"lo":41,"hi":77},{"w":9433,"b":17,"lo":0,"hi":34},{"w":9475,"b":28,"lo":11,"hi":45},{"w":9517,"b":59,"lo":41,"hi":77},{"w":9554,"b":-55,"lo":-73,"hi":-37},
      {"w":9593,"b":39,"lo":22,"hi":56},{"w":9630,"b":45,"lo":28,"hi":62},{"w":9672,"b":17,"lo":0,"hi":34},{"w":9706,"b":22,"lo":5,"hi":39},{"w":9743,"b":-6,"lo":-23,"hi":11},
      {"w":9765,"b":-1,"lo":-18,"hi":16}
    ]
  },
  "resolve": {"axis": {"x": "independent", "y": "independent"}},
  "layer": [
    {
      "data": {"values": [{"z": 0}]},
      "mark": {"type": "rule", "color": "#d6d6d6", "strokeWidth": 1},
      "encoding": {
        "y": {"field": "z", "type": "quantitative", "scale": {"domain": [-374, 382], "nice": false, "zero": false}, "axis": null}
      }
    },
    {
      "data": {"name": "spec"},
      "mark": {"type": "line", "color": "#cdcdcd", "strokeWidth": 0.6, "clip": true},
      "encoding": {
        "x": {"field": "w", "type": "quantitative", "scale": {"domain": [4611, 9966], "nice": false, "zero": false},
          "axis": {"orient": "bottom", "values": [5000, 6000, 7000, 8000, 9000], "format": "d", "tickSize": -7, "tickWidth": 1.5,
            "domain": true, "domainWidth": 2.5, "labelFont": "Liberation Sans", "labelFontSize": 12, "labelFontWeight": "bold",
            "labelPadding": 15, "title": "observed wavelength (Å)", "titleFont": "Liberation Sans", "titleFontSize": 11,
            "titleFontWeight": "normal", "titleY": 42, "titleBaseline": "middle"}},
        "y": {"field": "f", "type": "quantitative", "scale": {"domain": [-374, 382], "nice": false, "zero": false},
          "axis": {"orient": "left", "values": [-300, -200, -100, 0, 100, 200, 300], "tickSize": -7, "tickWidth": 1.5,
            "domain": true, "domainWidth": 2.5, "labelFont": "Liberation Sans", "labelFontSize": 12, "labelFontWeight": "bold",
            "labelAngle": 270, "labelAlign": "center", "labelBaseline": "middle", "labelPadding": 23,
            "title": "Flux (counts or calibrated in 1e-17 erg/s/cm²/Å)", "titleFont": "Liberation Sans", "titleFontSize": 11,
            "titleFontWeight": "normal", "titleAngle": 270, "titleX": -45, "titleY": 220, "titleAlign": "center", "titleBaseline": "middle"}}
      }
    },
    {
      "data": {"name": "spec"},
      "transform": [{"filter": "isValid(datum.s)"}],
      "mark": {"type": "line", "color": "#f08080", "strokeWidth": 0.8, "clip": true},
      "encoding": {
        "x": {"field": "w", "type": "quantitative", "scale": {"domain": [4611, 9966], "nice": false, "zero": false},
          "axis": {"orient": "bottom", "values": [4700,4800,4900,5000,5100,5200,5300,5400,5500,5600,5700,5800,5900,6000,6100,6200,6300,6400,6500,6600,6700,6800,6900,7000,7100,7200,7300,7400,7500,7600,7700,7800,7900,8000,8100,8200,8300,8400,8500,8600,8700,8800,8900,9000,9100,9200,9300,9400,9500,9600,9700,9800,9900],
            "tickSize": -3, "tickWidth": 1.2, "labels": false, "domain": false, "title": null}},
        "y": {"field": "s", "type": "quantitative", "scale": {"domain": [-374, 382], "nice": false, "zero": false},
          "axis": {"orient": "left", "values": [-370,-360,-350,-340,-330,-320,-310,-300,-290,-280,-270,-260,-250,-240,-230,-220,-210,-200,-190,-180,-170,-160,-150,-140,-130,-120,-110,-100,-90,-80,-70,-60,-50,-40,-30,-20,-10,0,10,20,30,40,50,60,70,80,90,100,110,120,130,140,150,160,170,180,190,200,210,220,230,240,250,260,270,280,290,300,310,320,330,340,350,360,370,380],
            "tickSize": -3, "tickWidth": 1.2, "labels": false, "domain": false, "title": null}}
      }
    },
    {
      "data": {"name": "smooth"},
      "mark": {"type": "area", "color": "#7474e6", "opacity": 0.72, "clip": true},
      "encoding": {
        "x": {"field": "w", "type": "quantitative", "scale": {"domain": [4611, 9966], "nice": false, "zero": false},
          "axis": {"orient": "top", "values": [5000, 6000, 7000, 8000, 9000], "tickSize": -7, "tickWidth": 1.5,
            "domain": true, "domainWidth": 2.5, "labels": false, "title": null}},
        "y": {"field": "lo", "type": "quantitative", "scale": {"domain": [-374, 382], "nice": false, "zero": false},
          "axis": {"orient": "right", "values": [-300, -200, -100, 0, 100, 200, 300], "tickSize": -7, "tickWidth": 1.5,
            "domain": true, "domainWidth": 2.5, "labels": false, "title": null}},
        "y2": {"field": "hi"}
      }
    },
    {
      "data": {"name": "smooth"},
      "mark": {"type": "line", "color": "#3030d2", "strokeWidth": 0.9, "clip": true},
      "encoding": {
        "x": {"field": "w", "type": "quantitative", "scale": {"domain": [4611, 9966], "nice": false, "zero": false},
          "axis": {"orient": "top", "values": [4700,4800,4900,5000,5100,5200,5300,5400,5500,5600,5700,5800,5900,6000,6100,6200,6300,6400,6500,6600,6700,6800,6900,7000,7100,7200,7300,7400,7500,7600,7700,7800,7900,8000,8100,8200,8300,8400,8500,8600,8700,8800,8900,9000,9100,9200,9300,9400,9500,9600,9700,9800,9900],
            "tickSize": -3, "tickWidth": 1.2, "labels": false, "domain": false, "title": null}},
        "y": {"field": "b", "type": "quantitative", "scale": {"domain": [-374, 382], "nice": false, "zero": false},
          "axis": {"orient": "right", "values": [-370,-360,-350,-340,-330,-320,-310,-300,-290,-280,-270,-260,-250,-240,-230,-220,-210,-200,-190,-180,-170,-160,-150,-140,-130,-120,-110,-100,-90,-80,-70,-60,-50,-40,-30,-20,-10,0,10,20,30,40,50,60,70,80,90,100,110,120,130,140,150,160,170,180,190,200,210,220,230,240,250,260,270,280,290,300,310,320,330,340,350,360,370,380],
            "tickSize": -3, "tickWidth": 1.2, "labels": false, "domain": false, "title": null}}
      }
    },
    {
      "data": {"values": [{"w": 7734, "top": 285, "bot": -374}]},
      "mark": {"type": "rule", "color": "#2ca02c", "strokeWidth": 1, "strokeDash": [3, 2], "clip": true},
      "encoding": {
        "x": {"field": "w", "type": "quantitative", "axis": null},
        "y": {"field": "top", "type": "quantitative", "axis": null},
        "y2": {"field": "bot"}
      }
    },
    {
      "data": {"values": [{"w": 7734, "y": 318, "t": "MgII"}]},
      "mark": {"type": "text", "color": "#2ca02c", "font": "Liberation Sans", "fontSize": 11, "angle": 315, "align": "center", "baseline": "middle"},
      "encoding": {
        "x": {"field": "w", "type": "quantitative", "axis": null},
        "y": {"field": "y", "type": "quantitative", "axis": null},
        "text": {"field": "t"}
      }
    },
    {
      "data": {"values": [{"w": 4803, "y": 354, "t": "Remarks: MgII?"}]},
      "mark": {"type": "text", "color": "black", "font": "Liberation Sans", "fontSize": 11, "align": "left", "baseline": "middle"},
      "encoding": {
        "x": {"field": "w", "type": "quantitative", "axis": null},
        "y": {"field": "y", "type": "quantitative", "axis": null},
        "text": {"field": "t"}
      }
    },
    {
      "data": {"values": [{"w": 7354, "y": -352, "t": "spec1d.m34bc.008.cid_195 (z = 1.764, Qf = 1)"}]},
      "mark": {"type": "text", "color": "black", "font": "Liberation Sans", "fontSize": 11, "align": "center", "baseline": "middle"},
      "encoding": {
        "x": {"field": "w", "type": "quantitative", "axis": null},
        "y": {"field": "y", "type": "quantitative", "axis": null},
        "text": {"field": "t"}
      }
    }
  ]
}
